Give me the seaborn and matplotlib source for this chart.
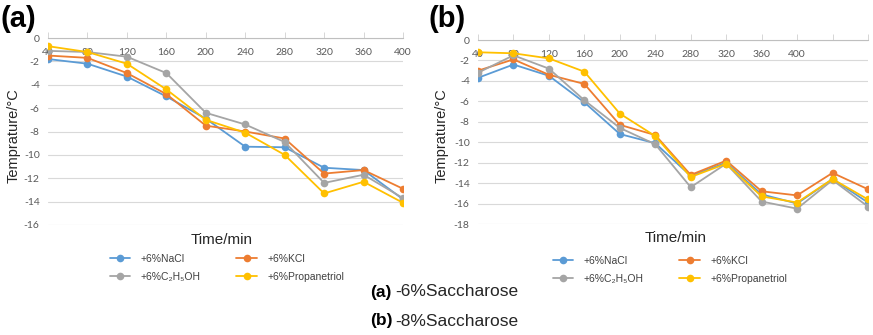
import numpy as np
import pandas as pd
import matplotlib
matplotlib.use("Agg")
import matplotlib.pyplot as plt
import seaborn as sns

# Sampling times (min); panel (b) carries two unlabeled trailing points
times_a = ["40", "80", "120", "160", "200", "240", "280", "320", "360", "400"]
times_b = ["40", "80", "120", "160", "200", "240", "280", "320", "360", "400", "", ""]

series = ["+6%NaCl", "+6%KCl", "+6%C\u2082H\u2085OH", "+6%Propanetriol"]
colors = ["#5B9BD5", "#ED7D31", "#A5A5A5", "#FFC000"]

# (a) 6% saccharose
nacl_a = [-1.8, -2.2, -3.3, -5.0, -6.9, -9.3, -9.35, -11.1, -11.3, -13.8]
kcl_a = [-1.5, -1.7, -3.0, -4.8, -7.5, -8.0, -8.6, -11.6, -11.3, -12.9]
etoh_a = [-1.1, -1.2, -1.6, -3.0, -6.4, -7.4, -8.9, -12.4, -11.7, -13.7]
prop_a = [-0.7, -1.2, -2.2, -4.4, -7.0, -8.1, -10.0, -13.3, -12.3, -14.1]

# (b) 8% saccharose
nacl_b = [-3.7, -2.4, -3.5, -6.1, -9.2, -10.1, -13.3, -12.0, -15.1, -16.0, -13.6, -15.9]
kcl_b = [-3.0, -1.9, -3.4, -4.3, -8.3, -9.3, -13.2, -11.8, -14.8, -15.2, -13.0, -14.6]
etoh_b = [-3.2, -1.5, -2.8, -5.9, -8.6, -10.2, -14.4, -12.1, -15.8, -16.5, -13.7, -16.3]
prop_b = [-1.2, -1.3, -1.8, -3.1, -7.2, -9.4, -13.4, -12.1, -15.3, -15.9, -13.6, -15.6]

sns.set_theme(style="white")
plt.rcParams["font.family"] = ["Liberation Sans", "DejaVu Sans"]
plt.rcParams["axes.unicode_minus"] = False

fig = plt.figure(figsize=(8.73, 3.35), dpi=100)
W, H = 873, 335


def px_axes(x0, y0, x1, y1):
    return fig.add_axes([x0 / W, 1 - y1 / H, (x1 - x0) / W, (y1 - y0) / H])


def draw(ax, labels, data, ymin):
    pos = np.arange(len(labels))
    df = pd.DataFrame({
        "pos": np.tile(pos, len(series)),
        "temp": np.concatenate(data),
        "series": np.repeat(series, len(pos)),
    })
    sns.lineplot(data=df, x="pos", y="temp", hue="series", hue_order=series,
                 palette=colors, marker="o", markersize=5.5, markeredgewidth=0,
                 linewidth=1.3, sort=False, ax=ax)
    ax.set_xlim(0, len(labels) - 1)
    ax.set_ylim(ymin, 0)
    ax.set_yticks(np.arange(0, ymin - 1, -2))
    ax.set_xticks(pos)
    ax.set_xticklabels(labels)
    ax.set_xlabel("")
    ax.set_ylabel("")
    ax.grid(axis="y", color="#D9D9D9", linewidth=0.8)
    ax.grid(axis="x", visible=False)
    ax.set_axisbelow(True)
    for side in ["left", "right", "bottom"]:
        ax.spines[side].set_visible(False)
    ax.spines["top"].set_color("#BFBFBF")
    ax.spines["top"].set_linewidth(0.8)
    ax.tick_params(axis="x", bottom=False, labelbottom=False, top=True,
                   labeltop=True, direction="out", length=4, width=0.6,
                   color="#D0D0D0", pad=-18, labelsize=7.5, labelcolor="#595959")
    ax.tick_params(axis="y", length=0, pad=6, labelsize=7.5, labelcolor="#595959")
    for t in ax.get_xticklabels() + ax.get_yticklabels():
        t.set_family(["Lato", "DejaVu Sans"])
    h, l = ax.get_legend_handles_labels()
    ax.get_legend().remove()
    # row-wise order for a two-column legend
    order = [0, 2, 1, 3]
    return [h[i] for i in order], [l[i] for i in order]


ax_a = px_axes(48, 38, 403, 225)
ha_, la_ = draw(ax_a, times_a, [nacl_a, kcl_a, etoh_a, prop_a], -16)
ax_b = px_axes(478, 40, 868, 224)
hb_, lb_ = draw(ax_b, times_b, [nacl_b, kcl_b, etoh_b, prop_b], -18)

for h, l, cx, cy in [(ha_, la_, 227, 268), (hb_, lb_, 670, 270)]:
    fig.legend(h, l, ncol=2, loc="center", bbox_to_anchor=(cx / W, 1 - cy / H),
               frameon=False, fontsize=7.5, handlelength=2.0, columnspacing=3.4,
               labelspacing=0.75, handletextpad=1.0, labelcolor="#404040")

# axis titles
for cx, cy in [(222, 240), (676, 238)]:
    fig.text(cx / W, 1 - cy / H, "Time/min", ha="center", va="center",
             fontsize=11, color="#262626")
for cx, cy in [(14, 136), (442, 136)]:
    fig.text(cx / W, 1 - cy / H, "Temprature/°C", ha="center", va="center",
             rotation=90, fontsize=10.5, color="#262626")

# panel tags
fig.text(1 / W, 1 - 19 / H, "(a)", ha="left", va="center", fontsize=21,
         fontweight="bold", color="black")
fig.text(429 / W, 1 - 19 / H, "(b)", ha="left", va="center", fontsize=21,
         fontweight="bold", color="black")

# captions
for tag, rest, cy in [("(a)", "-6%Saccharose", 292), ("(b)", "-8%Saccharose", 321)]:
    fig.text(370 / W, 1 - cy / H, tag, ha="left", va="center", fontsize=12.5,
             fontweight="bold", color="black")
    fig.text(395 / W, 1 - cy / H, rest, ha="left", va="center", fontsize=12.5,
             color="#262626")

fig.savefig("out.png", dpi=100)
